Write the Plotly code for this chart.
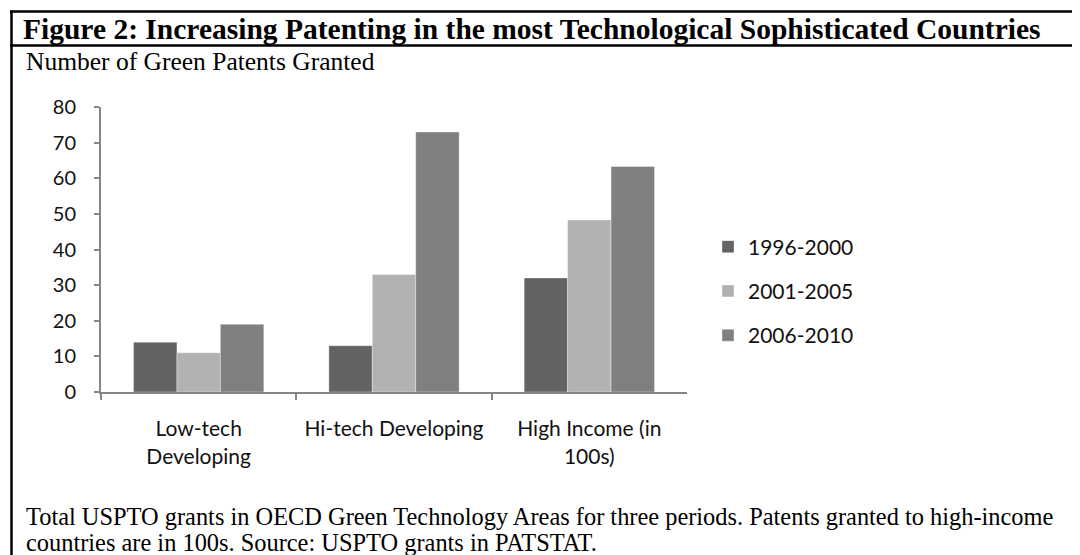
import plotly.graph_objects as go

categories = ["Low-tech<br>Developing", "Hi-tech Developing", "High Income (in<br>100s)"]
series_names = ["1996-2000", "2001-2005", "2006-2010"]
values_1996_2000 = [14, 13, 32]
values_2001_2005 = [11, 33, 48.3]
values_2006_2010 = [19, 73, 63.3]
series_colors = ["#636363", "#b2b2b2", "#808080"]
y_ticks = [0, 10, 20, 30, 40, 50, 60, 70, 80]

title_text = "Figure 2: Increasing Patenting in the most Technological Sophisticated Countries"
subtitle_text = "Number of Green Patents Granted"
caption_lines = [
    "Total USPTO grants in OECD Green Technology Areas for three periods. Patents granted to high-income",
    "countries are in 100s. Source: USPTO grants in PATSTAT.",
]

W, H = 1080, 555
OFF = 8  # page body margin offset

def px(x):
    return (x - OFF) / W

def py(y):
    return 1 - (y - OFF) / H

fig = go.Figure()
for name, vals, col in zip(series_names, [values_1996_2000, values_2001_2005, values_2006_2010], series_colors):
    fig.add_trace(go.Bar(
        x=categories, y=vals, name=name, legendgroup=name,
        marker=dict(color=col, line=dict(color="rgba(255,255,255,0.35)", width=1)),
        hoverinfo="x+y+name",
    ))

fig.update_layout(
    width=W, height=H,
    margin=dict(l=0, r=0, t=0, b=0, pad=0),
    paper_bgcolor="white", plot_bgcolor="white",
    barmode="group", bargap=0.333, bargroupgap=0,
    showlegend=True,
    legend=dict(
        x=px(708), xanchor="left", y=py(291), yanchor="middle",
        font=dict(family="Lato", size=21, color="#111111"),
        traceorder="grouped", tracegroupgap=14,
        bgcolor="rgba(0,0,0,0)",
    ),
    xaxis=dict(
        domain=[px(101), px(687)],
        showline=True, linecolor="#868686", linewidth=2,
        ticks="outside", tickson="boundaries", ticklen=6, tickcolor="#868686", tickwidth=2,
        tickfont=dict(family="Lato", size=21, color="#111111"),
        showgrid=False, automargin=False, ticklabelstandoff=17,
    ),
    yaxis=dict(
        domain=[py(392), py(107)],
        range=[0, 80], tickvals=y_ticks,
        showline=True, linecolor="#868686", linewidth=2,
        ticks="outside", ticklen=5, tickcolor="#868686", tickwidth=2,
        tickfont=dict(family="Lato", size=20, color="#111111"),
        showgrid=False, zeroline=False, automargin=False,
        ticklabelstandoff=14,
    ),
    font=dict(family="Lato"),
)

# Frame lines
line_style = dict(color="black", width=2.5)
fig.add_shape(type="line", xref="paper", yref="paper", x0=px(10), x1=1, y0=py(11.5), y1=py(11.5), line=line_style)
fig.add_shape(type="line", xref="paper", yref="paper", x0=px(10), x1=1, y0=py(45.5), y1=py(45.5), line=line_style)
fig.add_shape(type="line", xref="paper", yref="paper", x0=px(11.5), x1=px(11.5), y0=py(10.5), y1=0, line=line_style)

fig.add_annotation(text="<b>" + title_text + "</b>", xref="paper", yref="paper",
                   x=px(21), y=py(29), xanchor="left", yanchor="middle", showarrow=False,
                   font=dict(family="Liberation Serif", size=29.5, color="black"))
fig.add_annotation(text=subtitle_text, xref="paper", yref="paper",
                   x=px(24), y=py(61), xanchor="left", yanchor="middle", showarrow=False,
                   font=dict(family="Liberation Serif", size=25.5, color="black"))
caption_y = [516, 542]
for line, yy in zip(caption_lines, caption_y):
    fig.add_annotation(text=line, xref="paper", yref="paper",
                       x=px(24), y=py(yy), xanchor="left", yanchor="middle", showarrow=False,
                       font=dict(family="Liberation Serif", size=24.4, color="black"))

fig.write_html("out.html")
